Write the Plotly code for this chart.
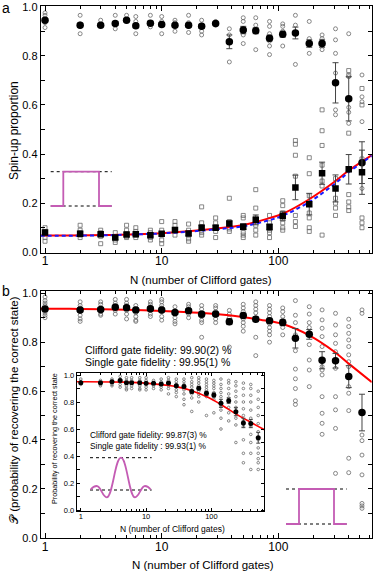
import plotly.graph_objects as go

# ---------------- data ----------------
N = [1, 2, 3, 4, 5, 6, 8, 10, 13, 17, 22, 29, 38, 50, 64, 84, 109, 140, 184, 237, 309, 401, 521]

# panel a : spin-up proportion
a_circ_mean = [0.945, 0.925, 0.925, 0.932, 0.945, 0.922, 0.933, 0.928, 0.925, 0.925, 0.92, 0.932,
               0.857, 0.905, 0.902, 0.872, 0.888, 0.893, 0.85, 0.85, 0.69, 0.625, 0.365]
a_circ_err = [0.008, 0.008, 0.005, 0.008, 0.005, 0.008, 0.008, 0.008, 0.006, 0.008, 0.008, 0.004,
              0.028, 0.015, 0.012, 0.012, 0.012, 0.024, 0.015, 0.015, 0.082, 0.09, 0.085]
a_sq_mean = [0.081, 0.075, 0.073, 0.06, 0.072, 0.073, 0.069, 0.075, 0.091, 0.076, 0.1, 0.1,
             0.117, 0.104, 0.132, 0.103, 0.149, 0.264, 0.196, 0.322, 0.26, 0.338, 0.326]
a_sq_err = [0.008, 0.008, 0.006, 0.008, 0.008, 0.006, 0.006, 0.008, 0.008, 0.008, 0.01, 0.01,
            0.01, 0.012, 0.02, 0.012, 0.018, 0.05, 0.044, 0.045, 0.055, 0.06, 0.09]
a_circ_open = [
    [0.975, 0.965, 0.95, 0.935, 0.915], [0.965, 0.93, 0.92, 0.89], [0.945, 0.925],
    [0.965, 0.935, 0.91], [0.965, 0.945], [0.96, 0.94, 0.925, 0.89], [0.965, 0.932, 0.918],
    [0.96, 0.94, 0.925, 0.89], [0.945, 0.935, 0.9], [0.965, 0.935, 0.92, 0.895],
    [0.945, 0.925, 0.9, 0.885], [0.94, 0.93, 0.925], [0.91, 0.885, 0.775],
    [0.955, 0.94, 0.91, 0.885, 0.85], [0.955, 0.925, 0.905, 0.825],
    [0.94, 0.92, 0.89, 0.86, 0.84, 0.805], [0.93, 0.92, 0.9, 0.84], [0.965, 0.925, 0.765],
    [0.94, 0.87, 0.845, 0.81], [0.885, 0.87, 0.86, 0.825], [0.91, 0.865, 0.81, 0.73, 0.58, 0.56],
    [0.89, 0.715, 0.59, 0.57, 0.525], [0.722, 0.633, 0.613, 0.532, 0.37, 0.26]]
a_sq_open = [
    [0.1, 0.085, 0.075, 0.06, 0.045], [0.11, 0.09, 0.08, 0.07, 0.06], [0.09, 0.08, 0.065, 0.035],
    [0.08, 0.065, 0.05, 0.04], [0.11, 0.09, 0.075, 0.065, 0.06], [0.1, 0.085, 0.07, 0.06],
    [0.09, 0.08, 0.07, 0.06, 0.05], [0.125, 0.09, 0.07, 0.05, 0.035], [0.125, 0.11, 0.09, 0.07],
    [0.115, 0.09, 0.07, 0.055, 0.045], [0.185, 0.12, 0.105, 0.09, 0.08, 0.07],
    [0.14, 0.12, 0.1, 0.085, 0.06], [0.22, 0.125, 0.11, 0.095, 0.085],
    [0.15, 0.14, 0.1, 0.08, 0.07, 0.06], [0.255, 0.18, 0.14, 0.11, 0.09, 0.07],
    [0.15, 0.12, 0.1, 0.09, 0.08, 0.06], [0.21, 0.19, 0.16, 0.135, 0.12, 0.1, 0.09],
    [0.455, 0.44, 0.395, 0.31, 0.15, 0.125, 0.105], [0.385, 0.32, 0.23, 0.16, 0.14, 0.1, 0.085],
    [0.58, 0.495, 0.435, 0.355, 0.29, 0.27, 0.07], [0.3, 0.22, 0.2, 0.18, 0.15],
    [0.74, 0.72, 0.485, 0.235, 0.205, 0.185, 0.17], [0.667, 0.6, 0.38, 0.14, 0.12, 0.1]]
fit_a_N = [0.92, 1, 3, 10, 30, 50, 84, 109, 184, 309, 401, 633]
fit_a_red = [0.068, 0.068, 0.07, 0.078, 0.097, 0.111, 0.139, 0.157, 0.216, 0.29, 0.333, 0.396]
fit_a_blue = [0.067, 0.067, 0.069, 0.077, 0.094, 0.106, 0.131, 0.149, 0.205, 0.281, 0.326, 0.393]

# panel b : probability of recovering the correct state
b_mean = [0.936, 0.932, 0.934, 0.943, 0.941, 0.932, 0.937, 0.932, 0.921, 0.929, 0.914, 0.915,
          0.884, 0.909, 0.894, 0.888, 0.88, 0.816, 0.832, 0.726, 0.724, 0.659, 0.512]
b_err = [0.008, 0.008, 0.008, 0.008, 0.008, 0.008, 0.008, 0.008, 0.008, 0.008, 0.01, 0.008,
         0.012, 0.01, 0.01, 0.01, 0.012, 0.04, 0.02, 0.035, 0.03, 0.045, 0.075]
b_open = [
    [0.985, 0.97, 0.96, 0.95, 0.94, 0.93, 0.92, 0.91, 0.9], [0.965, 0.95, 0.94, 0.925, 0.91, 0.895, 0.885],
    [0.965, 0.955, 0.94, 0.925, 0.915, 0.91], [0.975, 0.96, 0.95, 0.94, 0.93, 0.915],
    [0.975, 0.96, 0.95, 0.93, 0.915, 0.895], [0.95, 0.935, 0.92, 0.905, 0.89, 0.885],
    [0.965, 0.955, 0.945, 0.93, 0.915, 0.905], [0.975, 0.965, 0.95, 0.94, 0.925, 0.905, 0.89],
    [0.945, 0.93, 0.915, 0.9, 0.885, 0.875], [0.955, 0.945, 0.93, 0.915, 0.9],
    [0.95, 0.935, 0.92, 0.905, 0.89, 0.88, 0.82], [0.95, 0.94, 0.925, 0.91, 0.895, 0.88],
    [0.93, 0.915, 0.9, 0.88, 0.78], [0.955, 0.94, 0.925, 0.91, 0.895, 0.88, 0.865, 0.845],
    [0.965, 0.95, 0.935, 0.92, 0.9, 0.82, 0.745],
    [0.95, 0.935, 0.92, 0.905, 0.89, 0.875, 0.86, 0.845, 0.83, 0.8],
    [0.94, 0.925, 0.905, 0.89, 0.86, 0.83],
    [0.97, 0.91, 0.88, 0.83, 0.765, 0.69, 0.65, 0.61, 0.56, 0.545],
    [0.945, 0.915, 0.88, 0.86, 0.84, 0.79, 0.727, 0.686, 0.618],
    [0.932, 0.891, 0.857, 0.823, 0.782, 0.7, 0.686, 0.666, 0.577, 0.509, 0.468, 0.423],
    [0.918, 0.87, 0.83, 0.795, 0.761, 0.693, 0.577, 0.523, 0.447, 0.263],
    [0.894, 0.864, 0.836, 0.809, 0.782, 0.748, 0.72, 0.7, 0.659, 0.618, 0.591, 0.52, 0.325, 0.266],
    [0.932, 0.918, 0.42, 0.397, 0.338, 0.257, 0.14, 0.13, 0.12]]
fit_b_N = [0.92, 1, 2, 5, 10, 21, 41, 70, 109, 187, 296, 411, 633]
fit_b = [0.937, 0.937, 0.936, 0.933, 0.928, 0.92, 0.908, 0.892, 0.874, 0.826, 0.764, 0.708, 0.636]

# inset
i_mean = [0.943, 0.943, 0.95, 0.96, 0.943, 0.943, 0.943, 0.938, 0.938, 0.933, 0.94, 0.921,
          0.914, 0.877, 0.901, 0.864, 0.852, 0.79, 0.81, 0.728, 0.645, 0.64, 0.535]
i_err = [0.005] * 12 + [0.01, 0.012, 0.012, 0.015, 0.015, 0.03, 0.02, 0.03, 0.035, 0.03, 0.04]
i_open = [
    [0.97, 0.95, 0.93], [0.96, 0.94, 0.93, 0.92], [0.97, 0.95, 0.93, 0.92],
    [0.99, 0.97, 0.95, 0.93, 0.91], [0.98, 0.96, 0.94, 0.92, 0.9, 0.89],
    [0.98, 0.96, 0.94, 0.92, 0.9], [0.98, 0.96, 0.94, 0.92, 0.9, 0.89],
    [0.98, 0.96, 0.94, 0.93, 0.91, 0.89], [0.96, 0.94, 0.92, 0.9],
    [0.97, 0.95, 0.93, 0.91, 0.89], [0.98, 0.96, 0.94, 0.92, 0.9, 0.86],
    [0.97, 0.95, 0.93, 0.91, 0.89, 0.87, 0.84], [0.97, 0.95, 0.93, 0.91, 0.89, 0.86, 0.82, 0.78],
    [0.98, 0.95, 0.93, 0.91, 0.88, 0.86, 0.83, 0.73], [0.98, 0.96, 0.94, 0.92, 0.9, 0.88, 0.86, 0.84, 0.8],
    [0.97, 0.95, 0.93, 0.91, 0.89, 0.87, 0.84, 0.7], [0.96, 0.94, 0.92, 0.9, 0.87, 0.84, 0.82, 0.72],
    [0.97, 0.93, 0.9, 0.87, 0.84, 0.8, 0.77, 0.74, 0.68, 0.6],
    [0.96, 0.94, 0.9, 0.86, 0.83, 0.8, 0.76, 0.72, 0.66],
    [0.95, 0.92, 0.88, 0.84, 0.8, 0.76, 0.72, 0.68, 0.63, 0.5],
    [0.94, 0.9, 0.85, 0.8, 0.75, 0.7, 0.66, 0.62, 0.52, 0.42, 0.35],
    [0.93, 0.9, 0.85, 0.8, 0.74, 0.68, 0.62, 0.56, 0.5, 0.42, 0.3],
    [0.88, 0.82, 0.76, 0.7, 0.64, 0.58, 0.52, 0.46, 0.42, 0.38, 0.35, 0.3]]
fit_i_N = [0.86, 1, 5, 10, 20, 30, 50, 90, 150, 240, 400, 660]
fit_i = [0.95, 0.95, 0.947, 0.94, 0.925, 0.912, 0.884, 0.833, 0.772, 0.71, 0.65, 0.593]

x_ticks = [1, 10, 100]
x_minor = [2, 3, 4, 5, 6, 7, 8, 9, 20, 30, 40, 50, 60, 70, 80, 90, 200, 300, 400, 500, 600]
y_ticks = [0, 0.1, 0.2, 0.3, 0.4, 0.5, 0.6, 0.7, 0.8, 0.9, 1.0]
y_ticktext = ["0.0", "", "0.2", "", "0.4", "", "0.6", "", "0.8", "", "1.0"]

# ---------------- figure ----------------
W, H = 373, 573
FONT = "Liberation Sans, Arial, sans-serif"


def px(x):
    return x / W


def py(y):
    return 1 - y / H


def flat(vals):
    xs, ys = [], []
    for n, v in zip(N, vals):
        for e in v:
            xs.append(n)
            ys.append(e)
    return xs, ys


fig = go.Figure()
OPEN = "#6a6a6a"


def open_pts(vals, sym, size, xa, ya):
    xs, ys = flat(vals)
    fig.add_trace(go.Scatter(x=xs, y=ys, mode="markers", xaxis=xa, yaxis=ya,
                             marker=dict(symbol=sym, size=size, color=OPEN, line=dict(width=0.8, color=OPEN))))


def mean_pts(vals, errs, sym, size, xa, ya, cap=3):
    fig.add_trace(go.Scatter(x=N, y=vals, mode="markers", xaxis=xa, yaxis=ya,
                             error_y=dict(type="data", array=errs, color="#444", thickness=1, width=cap),
                             marker=dict(symbol=sym, size=size, color="black")))


# panel a
open_pts(a_circ_open, "circle-open", 4, "x", "y")
open_pts(a_sq_open, "square-open", 4, "x", "y")
fig.add_trace(go.Scatter(x=fit_a_N, y=fit_a_red, mode="lines", line=dict(color="#ff0000", width=2, shape="spline"),
                         xaxis="x", yaxis="y"))
fig.add_trace(go.Scatter(x=fit_a_N, y=fit_a_blue, mode="lines",
                         line=dict(color="#1a1aff", width=2, dash="4px,3px", shape="spline"), xaxis="x", yaxis="y"))
mean_pts(a_circ_mean, a_circ_err, "circle", 7.5, "x", "y")
mean_pts(a_sq_mean, a_sq_err, "square", 6.5, "x", "y")

# panel b
open_pts(b_open, "circle-open", 4, "x2", "y2")
fig.add_trace(go.Scatter(x=fit_b_N, y=fit_b, mode="lines", line=dict(color="#ff0000", width=2, shape="spline"),
                         xaxis="x2", yaxis="y2"))
mean_pts(b_mean, b_err, "circle", 7.5, "x2", "y2")

# inset
open_pts(i_open, "circle-open", 2.6, "x3", "y3")
fig.add_trace(go.Scatter(x=fit_i_N, y=fit_i, mode="lines", line=dict(color="#ff0000", width=1.6, shape="spline"),
                         xaxis="x3", yaxis="y3"))
mean_pts(i_mean, i_err, "circle", 5, "x3", "y3", cap=2)


def xaxis(dom, rng, anchor, fsize, tl, mtl, stand):
    return dict(type="log", domain=dom, range=rng, anchor=anchor, tickmode="array", tickvals=x_ticks,
                ticktext=[str(t) for t in x_ticks], ticks="inside", ticklen=tl, tickwidth=1, tickcolor="black",
                showline=True, linecolor="black", linewidth=1, mirror="allticks", showgrid=False, zeroline=False,
                tickfont=dict(family=FONT, size=fsize, color="black"), automargin=False,
                ticklabelstandoff=stand,
                minor=dict(tickmode="array", tickvals=x_minor, ticks="inside", ticklen=mtl, tickwidth=1,
                           tickcolor="black", showgrid=False))


def yaxis(dom, rng, anchor, fsize, tl):
    return dict(domain=dom, range=rng, anchor=anchor, tickmode="array", tickvals=y_ticks, ticktext=y_ticktext,
                ticks="inside", ticklen=tl, tickwidth=1, tickcolor="black", showline=True, linecolor="black",
                linewidth=1, mirror="allticks", showgrid=False, zeroline=False, automargin=False,
                tickfont=dict(family=FONT, size=fsize, color="black"))


XM = [px(40.7), px(371.7)]
fig.update_layout(
    xaxis=xaxis(XM, [-0.037, 2.80], "y", 12, 5, 3, -3),
    yaxis=yaxis([py(253), py(5.8)], [-0.0029, 1.0037], "x", 11, 4),
    xaxis2=xaxis(XM, [-0.037, 2.80], "y2", 12, 5, 3, -3),
    yaxis2=yaxis([py(538.4), py(290.7)], [-0.003, 1.0106], "x2", 11, 4),
    xaxis3=xaxis([px(76.7), px(264.3)], [-0.063, 2.81], "y3", 7.5, 3, 2, -2),
    yaxis3=yaxis([py(511), py(372.7)], [-0.0074, 1.017], "x3", 7.5, 3),
)

# pulse icons (decoration) in pixel coordinates
MAG = "#c45cb4"
shapes = []


def dotted(x0, x1, y):
    shapes.append(dict(type="line", xref="paper", yref="paper", x0=px(x0), x1=px(x1), y0=py(y), y1=py(y),
                       line=dict(color="black", width=1, dash="dot")))


def mpath(pts):
    d = "M " + " L ".join(f"{px(x):.5f},{py(y):.5f}" for x, y in pts)
    shapes.append(dict(type="path", xref="paper", yref="paper", path=d, line=dict(color=MAG, width=1.8)))


# panel a rectangular pulse
dotted(50.7, 111.7, 171.7)
dotted(50.7, 111.7, 206)
mpath([(50.7, 206), (63.3, 206), (63.3, 171.7), (99, 171.7), (99, 206), (111.7, 206)])
# panel b rectangular pulse
dotted(286, 346.7, 489)
dotted(286, 346.7, 524)
mpath([(286, 524), (299, 524), (299, 489), (334, 489), (334, 524), (346.7, 524)])
# inset sinc-like pulse
dotted(90, 151.7, 457.7)
dotted(90, 151.7, 490)
ext = [(96.7, 486), (106.7, 497.3), (121, 457.7), (135, 497.3), (145, 486)]
d = f"M {px(90.7):.5f},{py(489.5):.5f} C {px(92.7):.5f},{py(487):.5f} {px(94.5):.5f},{py(486):.5f} {px(96.7):.5f},{py(486):.5f}"
for (xa_, ya_), (xb_, yb_) in zip(ext[:-1], ext[1:]):
    k = 0.42 * (xb_ - xa_)
    d += f" C {px(xa_ + k):.5f},{py(ya_):.5f} {px(xb_ - k):.5f},{py(yb_):.5f} {px(xb_):.5f},{py(yb_):.5f}"
d += f" C {px(147.2):.5f},{py(486):.5f} {px(148.7):.5f},{py(487):.5f} {px(150.7):.5f},{py(489.5):.5f}"
shapes.append(dict(type="path", xref="paper", yref="paper", path=d, line=dict(color=MAG, width=1.8)))

ann = []


def text(x, y, s, size, angle=0, xanchor="center"):
    ann.append(dict(x=px(x), y=py(y), xref="paper", yref="paper", text=s, showarrow=False, textangle=angle,
                    xanchor=xanchor, yanchor="middle", font=dict(family=FONT, size=size, color="black")))


text(6, 8.5, "a", 14)
text(6, 291, "b", 14)
text(14, 131, "Spin-up proportion", 12, -90)
text(201, 280, "N (number of Clifford gates)", 11.5)
text(203, 565, "N (number of Clifford gates)", 11.5)
text(14, 410, "𝒫 (probability of recovering the correct state)", 11.5, -90)
text(82.7, 350, "Clifford gate fidelity: 99.90(2) %", 10.5, xanchor="left")
text(82.7, 361.5, "Single gate fidelity : 99.95(1) %", 10.5, xanchor="left")
text(54, 439, "Probability of recovering the correct state", 7.2, -90)
text(172, 528.5, "N (number of Clifford gates)", 8.5)
text(88, 435, "Clifford gate fidelity: 99.87(3) %", 8.4, xanchor="left")
text(88, 446, "Single gate fidelity : 99.93(1) %", 8.4, xanchor="left")

fig.update_layout(width=W, height=H, margin=dict(l=0, r=0, t=0, b=0), showlegend=False,
                  paper_bgcolor="white", plot_bgcolor="white", shapes=shapes, annotations=ann,
                  font=dict(family=FONT))
fig.write_html("out.html", config={"displayModeBar": False, "staticPlot": True},
               post_script="document.body.style.margin='0';document.body.style.overflow='hidden';")
